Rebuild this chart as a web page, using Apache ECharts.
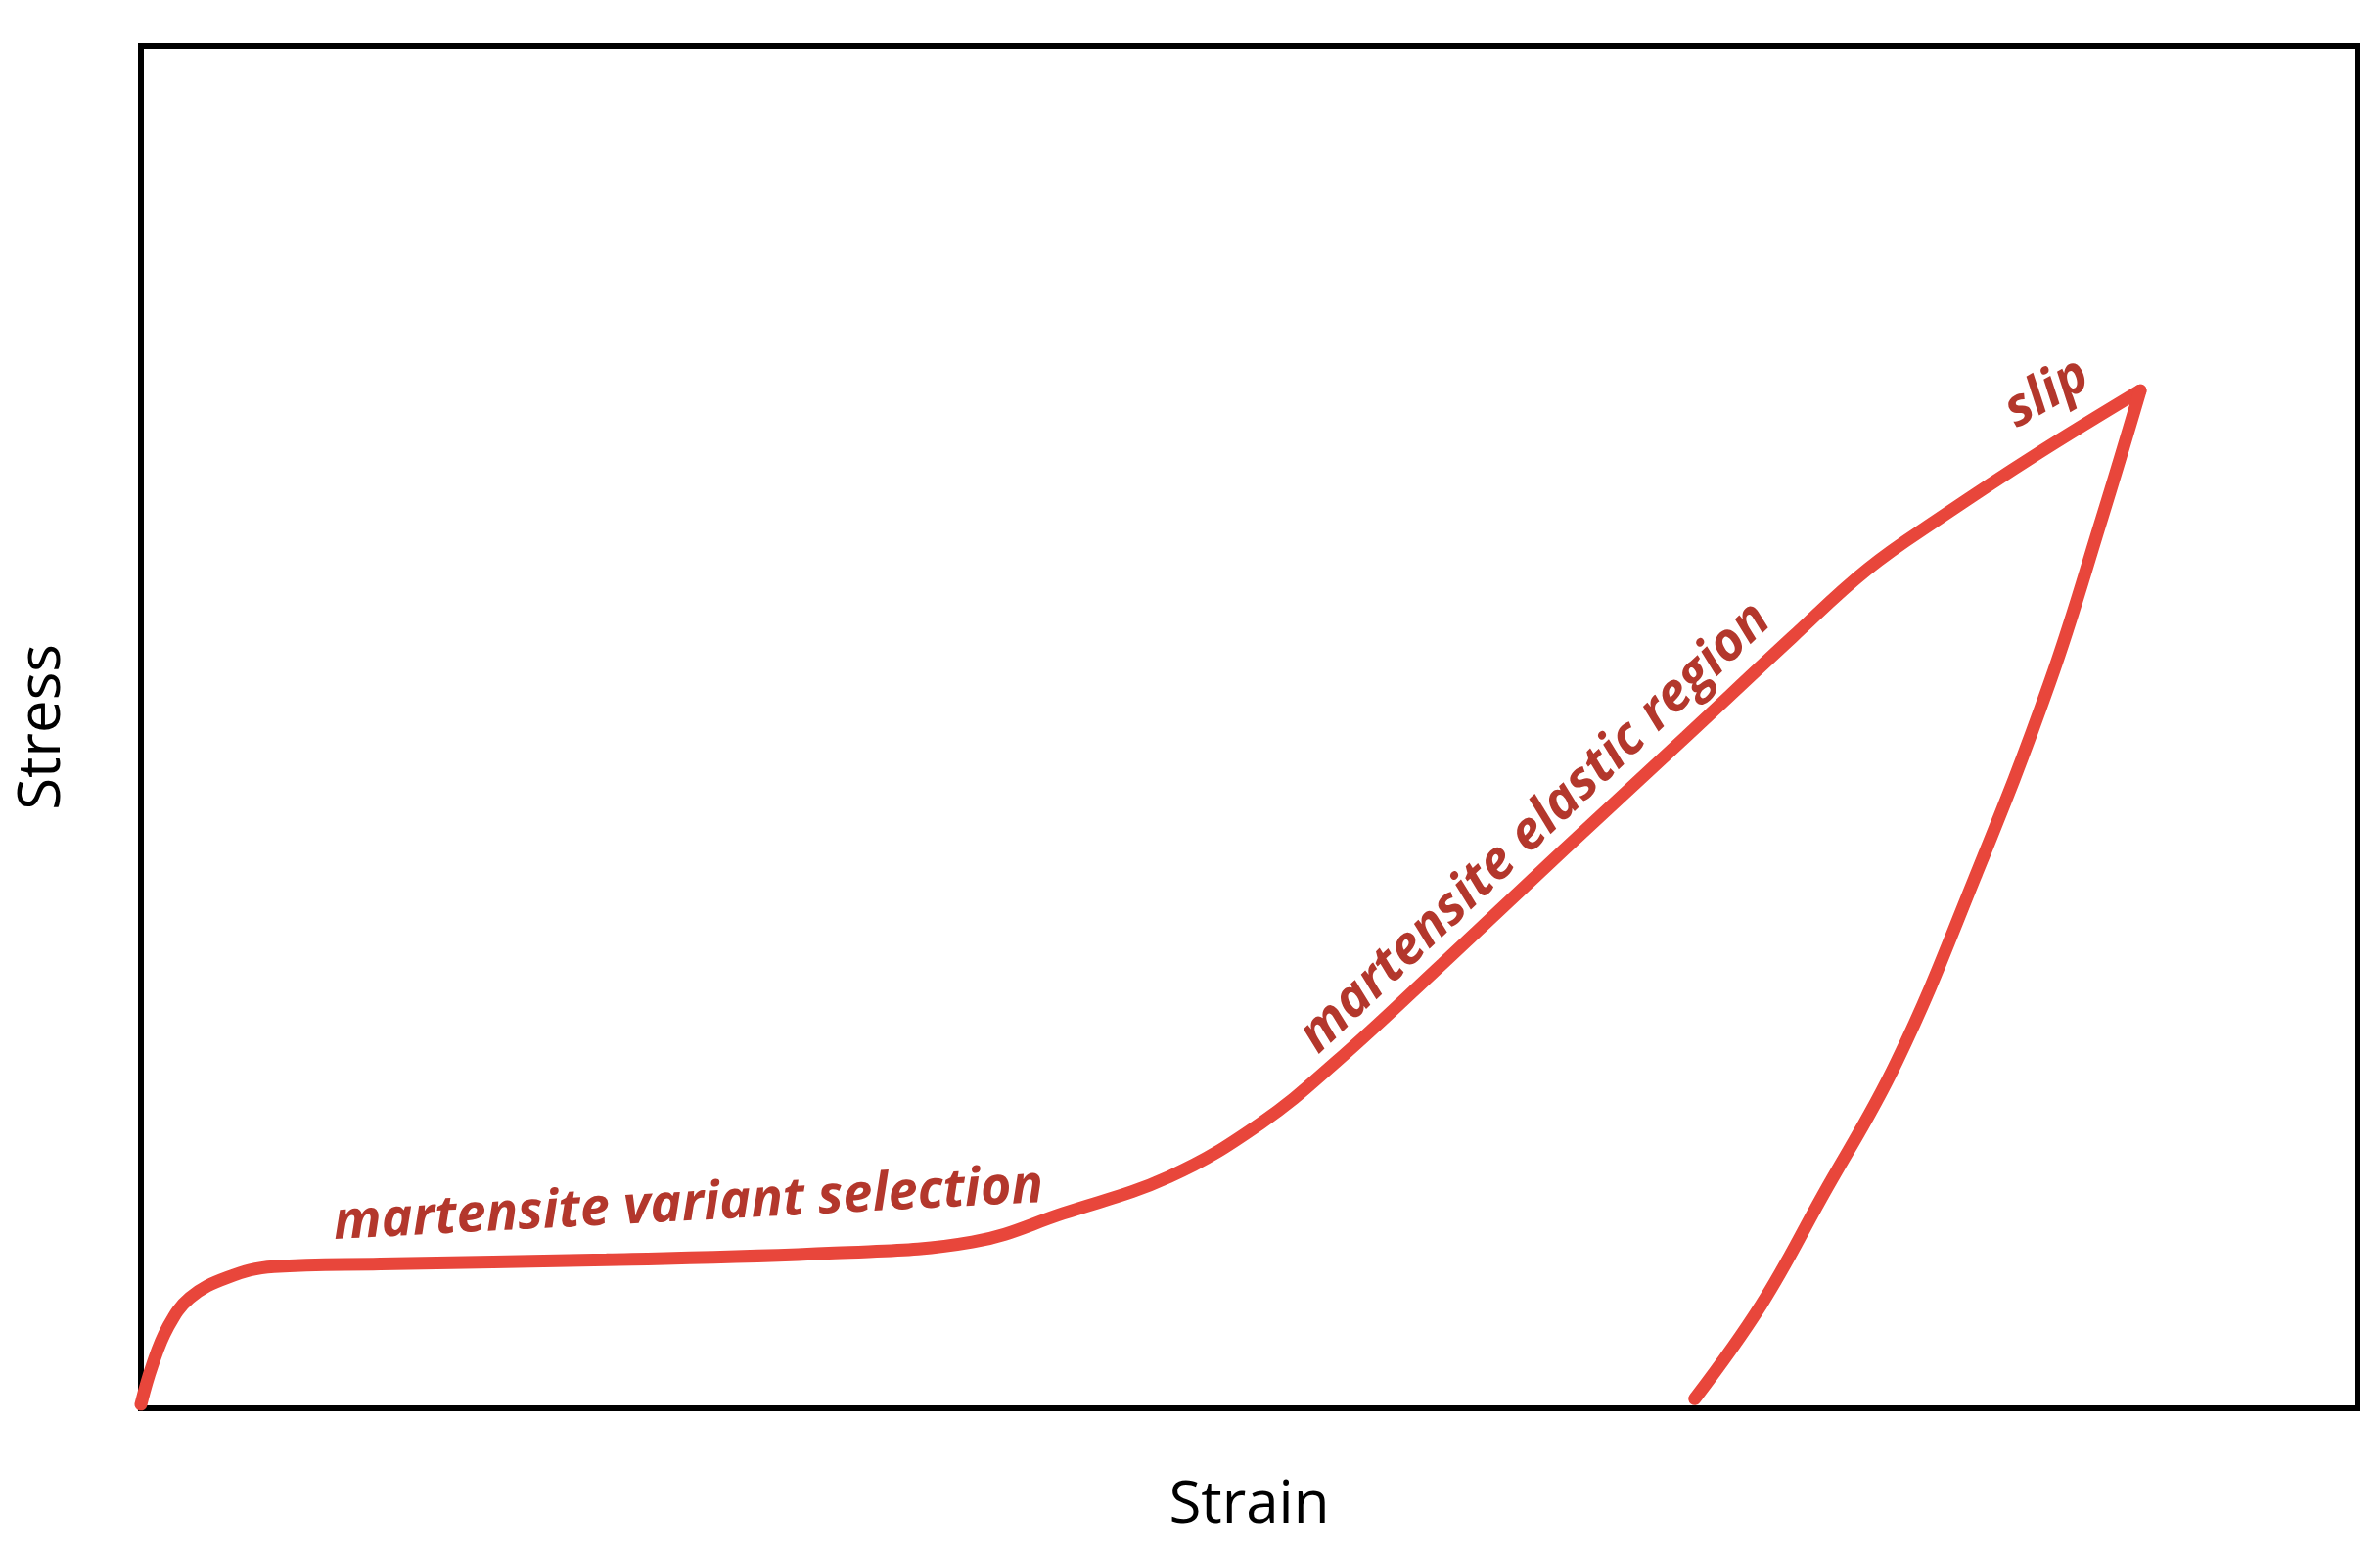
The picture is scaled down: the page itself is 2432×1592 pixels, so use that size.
<!DOCTYPE html>
<html>
<head>
<meta charset="utf-8">
<script src="https://cdn.jsdelivr.net/npm/echarts@6/dist/echarts.min.js"></script>
<style>html,body{margin:0;padding:0;background:#fff}#c{width:2432px;height:1592px}</style>
</head>
<body>
<div id="c"></div>
<script>
// loading curve (strain, stress) in 0..100 units
var loadX = [0, 0.5, 1.2, 2.2, 3.9, 6.0, 10.8, 21, 31.3, 37.5, 41.6, 46.4, 50.5, 53.9, 58.7, 64.2, 69.7, 74.5, 77.9, 81.3, 85.4, 90.2];
var loadY = [0.3, 3.1, 5.9, 8.1, 9.6, 10.4, 10.6, 10.9, 11.4, 12.2, 14.3, 17.0, 20.9, 25.4, 32.6, 41, 49.3, 56.6, 61.6, 65.5, 69.9, 74.7];
// unloading curve
var unloadX = [90.2, 88.5, 86.1, 82.7, 79.2, 75.8, 73.1, 70.1];
var unloadY = [74.7, 65.5, 53.2, 38.8, 25.4, 15.4, 7.6, 0.7];

var lineColor = '#e8463b';
var textColor = '#b3372c';

function pairs(xs, ys) {
    var out = [];
    for (var i = 0; i < xs.length; i++) out.push([xs[i], ys[i]]);
    return out;
}

var myChart = echarts.init(document.getElementById('c'));
var option = {
    animation: false,
    grid: { left: 144, right: 23, top: 47, bottom: 153, show: true, borderColor: '#000', borderWidth: 6 },
    xAxis: {
        type: 'value', min: 0, max: 100,
        name: 'Strain', nameLocation: 'middle', nameGap: 70,
        nameTextStyle: { fontFamily: 'Open Sans', fontSize: 60, color: '#000' },
        axisLine: { show: false }, axisTick: { show: false }, axisLabel: { show: false }, splitLine: { show: false }
    },
    yAxis: {
        type: 'value', min: 0, max: 100,
        name: 'Stress', nameLocation: 'middle', nameGap: 70,
        nameTextStyle: { fontFamily: 'Open Sans', fontSize: 60, color: '#000' },
        axisLine: { show: false }, axisTick: { show: false }, axisLabel: { show: false }, splitLine: { show: false }
    },
    series: [
        { type: 'line', data: pairs(loadX, loadY), smooth: 0.4, showSymbol: false,
          lineStyle: { color: lineColor, width: 13, cap: 'round' } },
        { type: 'line', data: pairs(unloadX, unloadY), smooth: 0.4, showSymbol: false,
          lineStyle: { color: lineColor, width: 13, cap: 'round' } }
    ]
};
myChart.setOption(option, true);

// curve labels, placed in data coordinates
var labels = [
    { text: 'martensite variant selection', at: [24.7, 14.9], rot: 3 },
    { text: 'martensite elastic region', at: [62.9, 42.6], rot: 43.5 },
    { text: 'slip', at: [86.0, 74.5], rot: 30 }
];
var g = labels.map(function (l) {
    var p = myChart.convertToPixel({ gridIndex: 0 }, l.at);
    return {
        type: 'text', x: p[0], y: p[1], rotation: l.rot * Math.PI / 180,
        style: { text: l.text, fill: textColor, font: 'italic bold 54px "Open Sans"', align: 'center', verticalAlign: 'middle' }
    };
});
myChart.setOption({ graphic: g });
</script>
</body>
</html>
